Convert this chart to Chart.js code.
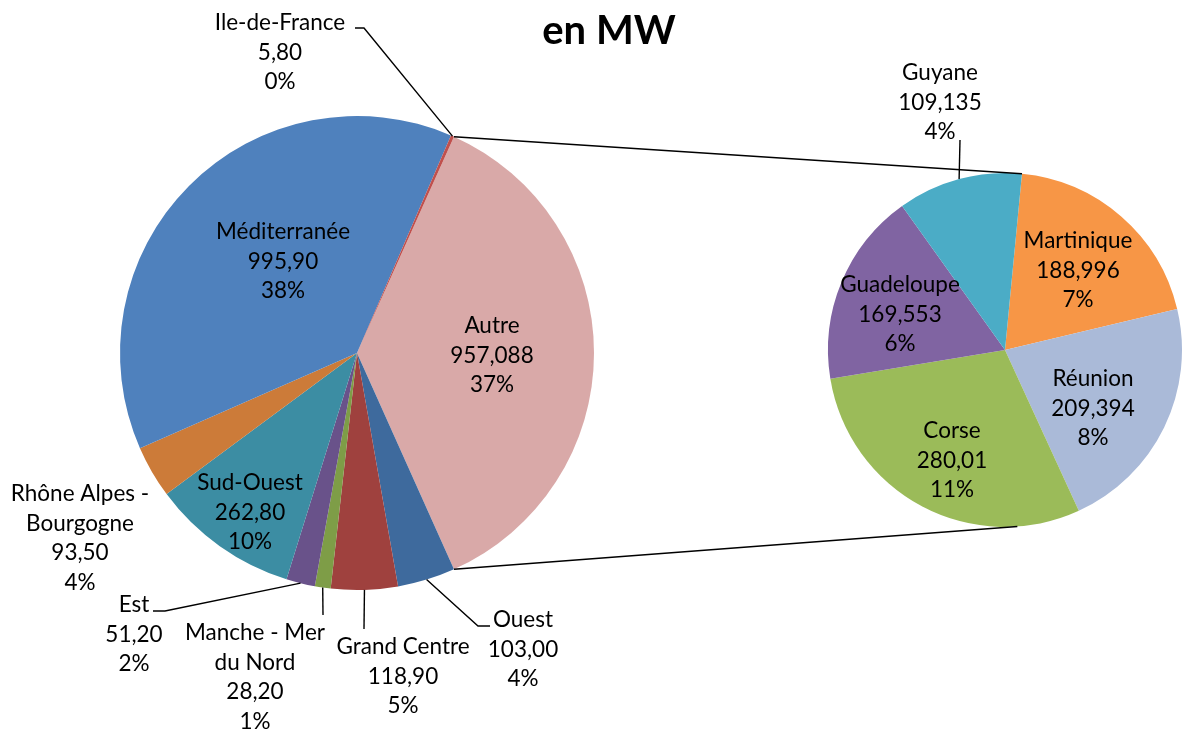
<!DOCTYPE html>
<html><head><meta charset="utf-8">
<script src="https://cdn.jsdelivr.net/npm/chart.js@4.4.0/dist/chart.umd.min.js"></script>
<style>
html,body{margin:0;padding:0;background:#fff;overflow:hidden}
#wrap{position:relative;width:1183px;height:733px;background:#fff}
canvas{position:absolute;left:0;top:0}
</style></head><body>
<div id="wrap"><canvas id="c1" width="1183" height="733"></canvas><canvas id="c2" width="1183" height="733"></canvas></div>
<script>
// ---- data ----
const titleText = 'en MW';
const mainCategories = ['Autre', 'Ouest', 'Grand Centre', 'Manche - Mer du Nord', 'Est', 'Sud-Ouest', 'Rhône Alpes - Bourgogne', 'Méditerranée', 'Ile-de-France'];
const mainValues = [957.088, 103.00, 118.90, 28.20, 51.20, 262.80, 93.50, 995.90, 5.80];
const mainValueDecimals = [3, 2, 2, 2, 2, 2, 2, 2, 2];
const subCategories = ['Martinique', 'Réunion', 'Corse', 'Guadeloupe', 'Guyane'];
const subValues = [188.996, 209.394, 280.01, 169.553, 109.135];
const subValueDecimals = [3, 3, 2, 3, 3];

// ---- styles ----
const mainColors = ['#D9A9A8', '#3E6A9D', '#9F413E', '#7E9D47', '#69528A', '#3C8DA3', '#CC7B39', '#4F81BD', '#C0504D'];
const subColors = ['#F79646', '#AABAD8', '#9BBB59', '#8064A2', '#4BACC6'];
const FONT = 'Lato, "Open Sans", sans-serif';
const FS = 22.5, LH = 29.5;
// label text lines split and anchor (center x, first line y); leader elbow points
const mainLabelLayout = [
  {lines: ['Autre'], x: 492, y: 326},
  {lines: ['Ouest'], x: 523, y: 620, leader: [[478, 626], [490, 626]]},
  {lines: ['Grand Centre'], x: 403, y: 647, leader: [[364, 629]]},
  {lines: ['Manche - Mer', 'du Nord'], x: 255, y: 633, leader: [[323, 615]]},
  {lines: ['Est'], x: 134, y: 605, leader: [[165, 611], [153, 611]]},
  {lines: ['Sud-Ouest'], x: 250, y: 483},
  {lines: ['Rhône Alpes -', 'Bourgogne'], x: 80, y: 494},
  {lines: ['Méditerranée'], x: 283, y: 232},
  {lines: ['Ile-de-France'], x: 280, y: 23, leader: [[364, 28], [355, 28]]}
];
const subLabelLayout = [
  {lines: ['Martinique'], x: 1078, y: 241},
  {lines: ['Réunion'], x: 1093, y: 379},
  {lines: ['Corse'], x: 952, y: 431},
  {lines: ['Guadeloupe'], x: 900, y: 285},
  {lines: ['Guyane'], x: 940, y: 73, leader: [[960, 140]]}
];

const grandTotal = mainValues.reduce((a, b) => a + b, 0);
const fmt = (v, d) => v.toFixed(d).replace('.', ',');
const pct = v => Math.round(v / grandTotal * 100) + '%';

function drawLabels(chart, values, decimals, layout) {
  const ctx = chart.ctx;
  const meta = chart.getDatasetMeta(0);
  ctx.save();
  ctx.font = FS + 'px ' + FONT;
  ctx.fillStyle = '#000';
  ctx.textAlign = 'center';
  ctx.textBaseline = 'middle';
  ctx.strokeStyle = '#000';
  ctx.lineWidth = 1.4;
  layout.forEach((L, i) => {
    const lines = L.lines.concat([fmt(values[i], decimals[i]), pct(values[i])]);
    lines.forEach((t, k) => ctx.fillText(t, L.x, L.y + k * LH));
    if (L.leader) {
      const a = meta.data[i];
      const mid = (a.startAngle + a.endAngle) / 2;
      ctx.beginPath();
      ctx.moveTo(a.x + Math.cos(mid) * a.outerRadius, a.y + Math.sin(mid) * a.outerRadius);
      L.leader.forEach(p => ctx.lineTo(p[0], p[1]));
      ctx.stroke();
    }
  });
  ctx.restore();
}

const baseOpts = {
  responsive: false,
  animation: false,
  events: [],
  plugins: {legend: {display: false}, tooltip: {enabled: false}, title: {display: false}},
  elements: {arc: {borderWidth: 0}}
};

const mainRotation = 90 - (mainValues[0] / grandTotal) * 180;

const chartMain = new Chart(document.getElementById('c1'), {
  type: 'pie',
  data: {labels: mainCategories, datasets: [{data: mainValues, backgroundColor: mainColors, borderWidth: 0}]},
  options: Object.assign({}, baseOpts, {
    rotation: mainRotation,
    layout: {padding: {left: 120, top: 116, right: 589, bottom: 143}}
  }),
  plugins: [{
    id: 'mainLabels',
    afterDraw(chart) {
      drawLabels(chart, mainValues, mainValueDecimals, mainLabelLayout);
      const ctx = chart.ctx;
      ctx.save();
      ctx.font = 'bold 40px ' + FONT;
      ctx.fillStyle = '#000';
      ctx.textAlign = 'center';
      ctx.textBaseline = 'middle';
      ctx.fillText(titleText, 609, 31);
      ctx.restore();
    }
  }]
});

const chartSub = new Chart(document.getElementById('c2'), {
  type: 'pie',
  data: {labels: subCategories, datasets: [{data: subValues, backgroundColor: subColors, borderWidth: 0}]},
  options: Object.assign({}, baseOpts, {
    rotation: 5.5,
    layout: {padding: {left: 828, top: 173, right: 1, bottom: 206}}
  }),
  plugins: [{
    id: 'subLabels',
    afterDraw(chart) {
      drawLabels(chart, subValues, subValueDecimals, subLabelLayout);
      // connector lines between the "Autre" slice and the secondary pie
      const ctx = chart.ctx;
      const autre = chartMain.getDatasetMeta(0).data[0];
      const first = chart.getDatasetMeta(0).data[0];
      const r = first.outerRadius;
      const topA = first.startAngle;
      const botA = Math.PI / 2 - 4 * Math.PI / 180;
      ctx.save();
      ctx.strokeStyle = '#000';
      ctx.lineWidth = 1.4;
      ctx.beginPath();
      ctx.moveTo(autre.x + Math.cos(autre.startAngle) * autre.outerRadius, autre.y + Math.sin(autre.startAngle) * autre.outerRadius);
      ctx.lineTo(first.x + Math.cos(topA) * r, first.y + Math.sin(topA) * r);
      ctx.moveTo(autre.x + Math.cos(autre.endAngle) * autre.outerRadius, autre.y + Math.sin(autre.endAngle) * autre.outerRadius);
      ctx.lineTo(first.x + Math.cos(botA) * r, first.y + Math.sin(botA) * r);
      ctx.stroke();
      ctx.restore();
    }
  }]
});
</script>
</body></html>
